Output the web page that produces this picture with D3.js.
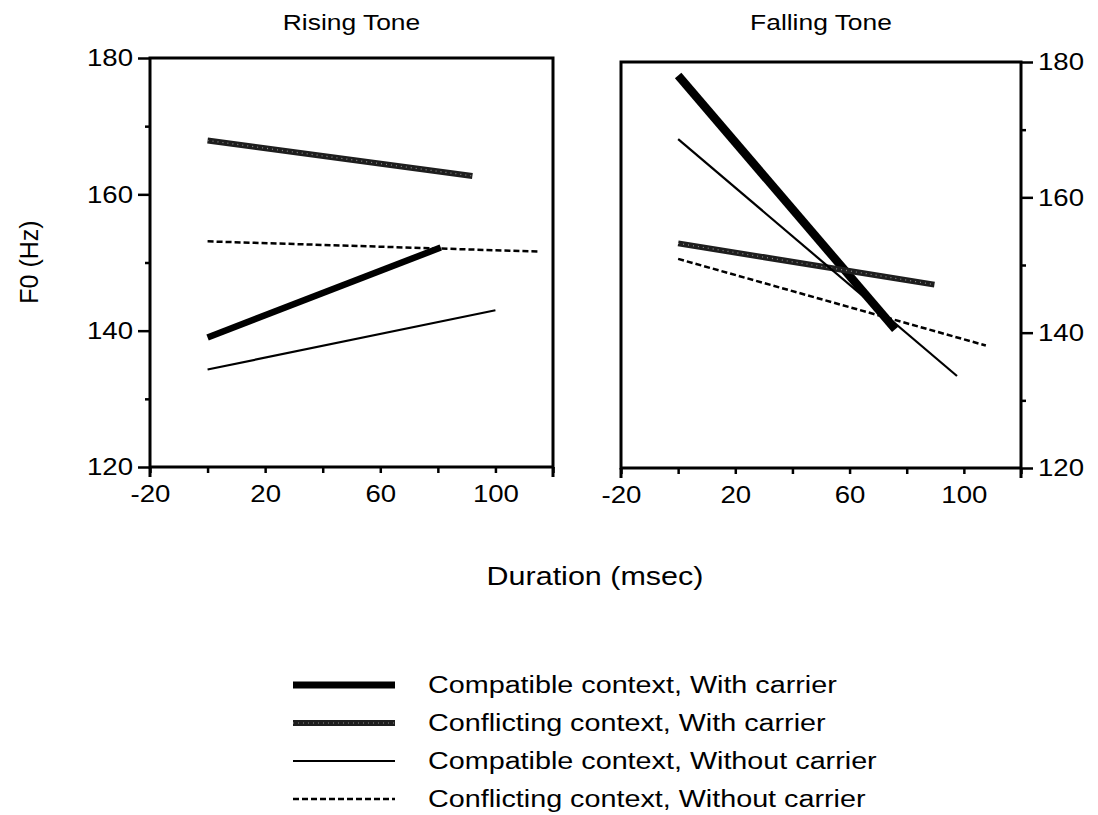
<!DOCTYPE html>
<html>
<head>
<meta charset="utf-8">
<script src="https://cdn.jsdelivr.net/npm/d3@7"></script>
<style>
  body { margin: 0; background: #fff; }
  svg text { font-family: "Liberation Sans", Arial, sans-serif; fill: #000; }
</style>
</head>
<body>
<div id="chart"></div>
<script>
// series names (legend order)
const seriesNames = [
    "Compatible context, With carrier",
    "Conflicting context, With carrier",
    "Compatible context, Without carrier",
    "Conflicting context, Without carrier"
];

// [duration, F0] end points
const risingCompatWith = [[0, 139], [81, 152.2]];
const risingConflWith = [[0, 167.9], [92, 162.7]];
const risingCompatWithout = [[0, 134.3], [100, 143]];
const risingConflWithout = [[0, 153.1], [115, 151.6]];

const fallingCompatWith = [[0, 178], [76, 140.5]];
const fallingConflWith = [[0, 153.2], [89.7, 147.1]];
const fallingCompatWithout = [[0, 168.6], [97.6, 133.6]];
const fallingConflWithout = [[0, 150.9], [107.7, 138.1]];

const xLabelTicks = [-20, 20, 60, 100];
const xMinorTicks = [0, 40, 80, 120];
const yLabelTicks = [120, 140, 160, 180];
const yMinorTicks = [130, 150, 170];

const width = 1098, height = 815;

const svg = d3.select("#chart").append("svg")
    .attr("width", width)
    .attr("height", height);

// line styles per series
const styles = [
    {stroke: "#000", width: 7, dash: null, texture: false},
    {stroke: "#1e1e1e", width: 6, dash: null, texture: true},
    {stroke: "#000", width: 2.2, dash: null, texture: false},
    {stroke: "#000", width: 2.5, dash: "6,3", texture: false}
];

// the scanned lettering is wider than a normal sans, so stretch it sideways
function wideText(g, x, y, size, sx, anchor, str) {
    return g.append("text")
        .attr("transform", `translate(${x},${y}) scale(${sx},1)`)
        .attr("text-anchor", anchor)
        .style("font-size", size + "px")
        .text(str);
}

function drawSeries(g, pts, st, x, y, w) {
    let line = d3.line().x(d => x(d[0])).y(d => y(d[1]));
    g.append("path")
        .attr("d", line(pts))
        .attr("fill", "none")
        .attr("stroke", st.stroke)
        .attr("stroke-width", w || st.width)
        .attr("stroke-dasharray", st.dash);
    if (st.texture) {
        g.append("path")
            .attr("d", line(pts))
            .attr("fill", "none")
            .attr("stroke", "#bbb")
            .attr("stroke-width", 1.2)
            .attr("stroke-dasharray", "1,4")
            .attr("opacity", 0.7);
    }
}

function panel(opts) {
    let x = d3.scaleLinear().domain([-20, 120]).range([opts.x0, opts.x1]);
    let y = d3.scaleLinear().domain([120, 180]).range([opts.y0, opts.y1]);
    let g = svg.append("g");

    // frame
    g.append("path")
        .attr("d", `M${opts.x0},${opts.y0}V${opts.y1}H${opts.x1}V${opts.y0}Z`)
        .attr("fill", "none")
        .attr("stroke", "#000")
        .attr("stroke-width", 3);

    // x axis
    g.append("g").attr("transform", `translate(0,${opts.y0})`)
        .call(d3.axisBottom(x).tickValues(xLabelTicks).tickSize(6).tickPadding(12).tickFormat(d => String(d)));
    g.append("g").attr("transform", `translate(0,${opts.y0})`)
        .call(d3.axisBottom(x).tickValues(xMinorTicks).tickSize(6).tickFormat(""));
    // corner extensions
    [-20, 120].forEach(v => {
        g.append("line")
            .attr("x1", x(v)).attr("x2", x(v))
            .attr("y1", opts.y0).attr("y2", opts.y0 + 10)
            .attr("stroke", "#000").attr("stroke-width", 3);
    });

    // y axis
    let yAxis = opts.side === "left" ? d3.axisLeft : d3.axisRight;
    let yPos = opts.side === "left" ? opts.x0 : opts.x1;
    g.append("g").attr("transform", `translate(${yPos},0)`)
        .call(yAxis(y).tickValues(yLabelTicks).tickSize(12).tickPadding(5));
    g.append("g").attr("transform", `translate(${yPos},0)`)
        .call(yAxis(y).tickValues(yMinorTicks).tickSize(5).tickFormat(""));

    g.selectAll(".domain").remove();
    g.selectAll(".tick line").attr("stroke", "#000").attr("stroke-width", 2.5);
    g.selectAll(".tick text")
        .style("font-size", "24px")
        .style("font-family", "'Liberation Sans', Arial, sans-serif");
    // widen tick labels around their anchor point
    g.selectAll(".tick text").each(function() {
        let t = d3.select(this);
        let tx = +t.attr("x") || 0;
        let ty = +t.attr("y") || 0;
        t.attr("x", null).attr("y", null)
            .attr("transform", `translate(${tx},${ty}) scale(1.15,1)`);
    });

    // title
    wideText(g, (opts.x0 + opts.x1) / 2, 30, 22, 1.2, "middle", opts.title);

    opts.series.forEach((pts, i) => drawSeries(g, pts, styles[i], x, y, i === 0 ? opts.thick : null));
}

panel({
    title: "Rising Tone", side: "left",
    x0: 150, x1: 553, y0: 467, y1: 58, thick: 6.5,
    series: [risingCompatWith, risingConflWith, risingCompatWithout, risingConflWithout]
});

panel({
    title: "Falling Tone", side: "right",
    x0: 621, x1: 1021, y0: 468, y1: 62, thick: 8.5,
    series: [fallingCompatWith, fallingConflWith, fallingCompatWithout, fallingConflWithout]
});

// axis titles
wideText(svg, 595, 585, 25, 1.22, "middle", "Duration (msec)");

svg.append("text")
    .attr("transform", "translate(38,262) rotate(-90)")
    .attr("text-anchor", "middle")
    .style("font-size", "25px")
    .text("F0 (Hz)");

// legend
const legendY = [685, 723, 761, 799];
const legend = svg.append("g");
seriesNames.forEach((name, i) => {
    let st = styles[i];
    let row = legend.append("g");
    drawSeries(row, [[0, 0], [1, 0]], st,
        d3.scaleLinear().domain([0, 1]).range([293, 395]),
        () => legendY[i]);
    wideText(row, 428, legendY[i] + 8, 23, 1.25, "start", name);
});
</script>
</body>
</html>
